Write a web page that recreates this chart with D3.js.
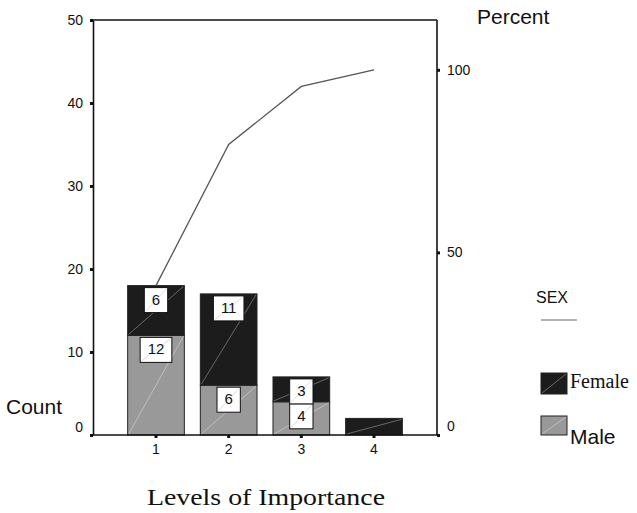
<!DOCTYPE html>
<html>
<head>
<meta charset="utf-8">
<script src="https://cdn.jsdelivr.net/npm/d3@7"></script>
<style>
  html, body { margin: 0; padding: 0; background: #fff; }
  svg { display: block; }
</style>
</head>
<body>
<div id="chart"></div>
<script>
// ---- data ----
const categories = ["1", "2", "3", "4"];
const maleCounts = [12, 6, 4, 0];
const femaleCounts = [6, 11, 3, 2];
const countTicks = [0, 10, 20, 30, 40, 50];
const percentTicks = [0, 50, 100];
const seriesNames = ["Female", "Male"];
const seriesColors = ["#1c1c1c", "#999999"];
const diagColors = ["#8a8a8a", "#cfcfcf"];

const SANS = "'Liberation Sans', Arial, sans-serif";
const SERIF = "'Liberation Serif', 'Times New Roman', serif";

const W = 637, H = 513;
const svg = d3.select("#chart").append("svg").attr("width", W).attr("height", H)
  .style("font-family", SANS);

const x = d3.scaleBand().domain(categories).range([93, 437])
  .paddingInner(0.22).paddingOuter(0.477);
const y = d3.scaleLinear().domain([0, 50]).range([435, 20]);
const total = d3.sum(maleCounts) + d3.sum(femaleCounts);
const yp = d3.scaleLinear().domain([0, 100]).range([y(0), y(total)]);

// stacked segments
const rows = categories.map((c, i) => ({cat: c, Male: maleCounts[i], Female: femaleCounts[i]}));
const stack = d3.stack().keys(["Male", "Female"])(rows);

const segs = [];
stack.forEach(layer => {
  const key = layer.key;
  const si = seriesNames.indexOf(key);
  layer.forEach(d => {
    if (d[1] - d[0] > 0) segs.push({key, si, cat: d.data.cat, y0: d[0], y1: d[1], v: d[1] - d[0]});
  });
});

const g = svg.append("g");
g.selectAll("rect.seg").data(segs).join("rect")
  .attr("class", "seg")
  .attr("x", d => x(d.cat))
  .attr("y", d => y(d.y1))
  .attr("width", x.bandwidth())
  .attr("height", d => y(d.y0) - y(d.y1))
  .attr("fill", d => seriesColors[d.si])
  .attr("stroke", "#222").attr("stroke-width", 1);

g.selectAll("line.diag").data(segs).join("line")
  .attr("class", "diag")
  .attr("x1", d => x(d.cat) + 1).attr("y1", d => y(d.y0) - 1)
  .attr("x2", d => x(d.cat) + x.bandwidth() - 1).attr("y2", d => y(d.y1) + 1)
  .attr("stroke", d => diagColors[d.si]).attr("stroke-width", 0.7);

// cumulative percent line
const cum = d3.cumsum(categories.map((c, i) => maleCounts[i] + femaleCounts[i]));
const cumPts = categories.map((c, i) => [x(c) + x.bandwidth() / 2, yp(cum[i] / total * 100)]);
svg.append("path").attr("d", d3.line()(cumPts))
  .attr("fill", "none").attr("stroke", "#555").attr("stroke-width", 1.3);

// value label boxes
const boxH = 25;
const lbl = segs.filter(d => y(d.y0) - y(d.y1) >= boxH - 1);
const lg = svg.append("g").selectAll("g").data(lbl).join("g");
lg.each(function(d) {
  const gg = d3.select(this);
  const cx = x(d.cat) + x.bandwidth() / 2;
  const top = y(d.y1) + 2;
  const t = gg.append("text").text(d.v)
    .attr("x", cx).attr("y", top + 17).attr("text-anchor", "middle")
    .style("font-size", "15px").attr("fill", "#111");
  const tw = t.node().getComputedTextLength();
  const bw = tw + 15;
  gg.insert("rect", "text")
    .attr("x", cx - bw / 2).attr("y", top).attr("width", bw).attr("height", boxH)
    .attr("fill", "#fff").attr("stroke", "#111").attr("stroke-width", 1);
  gg.insert("line", "text")
    .attr("x1", cx - bw / 2 + 1).attr("y1", top + boxH - 1)
    .attr("x2", cx + bw / 2 - 1).attr("y2", top + 1)
    .attr("stroke", "#cfcfcf").attr("stroke-width", 0.7);
});

// axes
function styleAxis(sel) {
  sel.attr("font-family", null).attr("font-size", null);
  sel.select(".domain").attr("stroke", "#111").attr("stroke-width", 1.6);
  sel.selectAll(".tick line").attr("stroke", "#111").attr("stroke-width", 3);
  sel.selectAll(".tick text").style("font-size", "14px")
    .style("font-family", SANS).attr("fill", "#111");
}
const axL = svg.append("g").attr("transform", "translate(93,0)")
  .call(d3.axisLeft(y).tickValues(countTicks).tickSize(3).tickSizeOuter(0).tickPadding(7));
styleAxis(axL);
axL.selectAll(".tick text").filter(d => d === 0).attr("dy", "-0.25em");

const axR = svg.append("g").attr("transform", "translate(437,0)")
  .call(d3.axisRight(yp).tickValues(percentTicks).tickSize(3).tickSizeOuter(0).tickPadding(7));
styleAxis(axR);
axR.select(".domain").attr("d", `M0,${y(0)}V${y(50)}`);
axR.selectAll(".tick text").filter(d => d === 0).attr("dy", "-0.3em");

const axB = svg.append("g").attr("transform", "translate(0,435)")
  .call(d3.axisBottom(x).tickSize(3).tickSizeOuter(0).tickPadding(6));
styleAxis(axB);
axB.select(".domain").attr("d", "M93,0H437");

// top frame line
svg.append("line").attr("x1", 93).attr("x2", 437).attr("y1", y(50)).attr("y2", y(50))
  .attr("stroke", "#111").attr("stroke-width", 1.6);

// axis titles
svg.append("text").text("Count").attr("x", 6).attr("y", 414).style("font-size", "21px").attr("fill", "#111");
svg.append("text").text("Percent").attr("x", 477).attr("y", 24).style("font-size", "21px").attr("fill", "#111");
svg.append("text").text("Levels of Importance")
  .attr("x", 147).attr("y", 505)
  .style("font-family", SERIF)
  .style("font-size", "23px").attr("fill", "#111")
  .attr("textLength", 238).attr("lengthAdjust", "spacingAndGlyphs");

// legend
svg.append("text").text("SEX").attr("x", 536).attr("y", 303).style("font-size", "16px").attr("fill", "#111");
svg.append("line").attr("x1", 541).attr("x2", 577).attr("y1", 320).attr("y2", 320)
  .attr("stroke", "#666").attr("stroke-width", 1.2);

const legendItems = [
  {name: "Female", top: 373, h: 21, font: SERIF, size: 20, base: 388},
  {name: "Male", top: 416, h: 19, font: SANS, size: 21, base: 444}
];
legendItems.forEach(it => {
  const si = seriesNames.indexOf(it.name);
  svg.append("rect").attr("x", 541).attr("y", it.top).attr("width", 26).attr("height", it.h)
    .attr("fill", seriesColors[si]).attr("stroke", "#222").attr("stroke-width", 1);
  svg.append("line").attr("x1", 542).attr("y1", it.top + it.h - 1)
    .attr("x2", 566).attr("y2", it.top + 1)
    .attr("stroke", diagColors[si]).attr("stroke-width", 0.7);
  svg.append("text").text(it.name).attr("x", 570).attr("y", it.base)
    .style("font-family", it.font).style("font-size", it.size + "px").attr("fill", "#111");
});
</script>
</body>
</html>
